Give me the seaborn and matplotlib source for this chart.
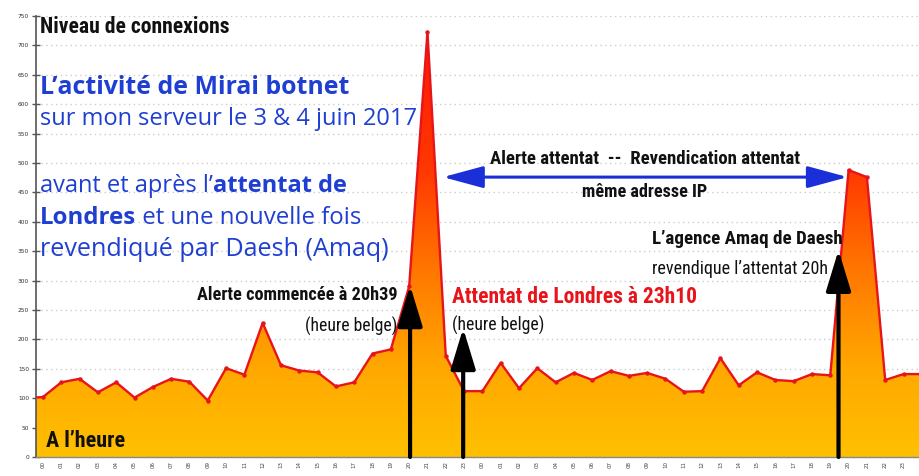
import numpy as np
import pandas as pd
import seaborn as sns
import matplotlib.pyplot as plt
from matplotlib import font_manager
from matplotlib.colors import LinearSegmentedColormap

# ---------------------------------------------------------
# Data: connexions per hour, 3 & 4 June 2017 (hour index, -1 / 48 = clipped edges)
# ---------------------------------------------------------
hours = list(range(-1, 49))
connexions = [100, 102, 127, 133, 110, 127, 101, 119, 133, 128,
              96, 151, 140, 228, 156, 147, 144, 120, 127, 176,
              183, 290, 723, 172, 112, 112, 160, 117, 151, 127,
              143, 131, 146, 138, 143, 133, 111, 112, 168, 122,
              144, 131, 129, 141, 139, 488, 476, 131, 141, 141]

tick_pos = list(range(48))
tick_labels = [f"{h % 24:02d}" for h in tick_pos]
y_ticks = list(range(0, 751, 50))

# events (hour position on the axis) and arrow tip levels
alerte_h, alerte_tip = 20.05, 292
attentat_h, attentat_tip = 22.95, 219
amaq_h, amaq_tip = 43.45, 352
ip_span = (21.85, 43.95, 476)

df = pd.DataFrame({"heure": hours, "connexions": connexions})

# ---------------------------------------------------------
# Fonts
# ---------------------------------------------------------
names = {f.name for f in font_manager.fontManager.ttflist}


def pick(*cands):
    for c in cands:
        if c in names:
            return c
    return "DejaVu Sans"


narrow = pick("Liberation Sans Narrow", "Roboto Condensed", "Open Sans Condensed", "Roboto")
humanist = pick("Open Sans", "Noto Sans", "Lato")

# ---------------------------------------------------------
# Plot
# ---------------------------------------------------------
sns.set_theme(style="white")
W, H = 920, 476
fig = plt.figure(figsize=(W / 100, H / 100), dpi=100)
ax = fig.add_axes([36 / W, 19 / H, 884 / W, 441 / H])

cmap = LinearSegmentedColormap.from_list(
    "feu", [(0, "#ffc000"), (0.2, "#ffa800"), (0.42, "#ff7800"), (0.65, "#ff3800"), (1, "#ff1400")])
grad = np.linspace(0, 1, 256).reshape(-1, 1)
im = ax.imshow(grad, cmap=cmap, aspect="auto", origin="lower",
               extent=[-1, 48, 0, 750], zorder=1)
poly = ax.fill_between(df["heure"], df["connexions"], 0, facecolor="none", linewidth=0)
im.set_clip_path(poly.get_paths()[0], transform=ax.transData)

sns.lineplot(data=df, x="heure", y="connexions", color="#e8141b", lw=1.7,
             marker="o", markersize=3.2, markeredgewidth=0, ax=ax, zorder=3)

ax.set_xlim(-0.38, 47.9)
ax.set_ylim(0, 750)
ax.set_xticks(tick_pos)
ax.set_xticklabels(tick_labels, rotation=90, fontsize=4, color="#444")
ax.set_yticks(y_ticks)
ax.set_yticklabels([str(v) for v in y_ticks], fontsize=4.2, color="#333")
ax.tick_params(axis="y", direction="inout", length=6, width=1, color="#555", pad=2, left=True)
ax.tick_params(axis="x", length=0, pad=3)
ax.set_xlabel("")
ax.set_ylabel("")
ax.yaxis.grid(True, ls=(0, (1, 2.5)), color="#cccccc", lw=1)
ax.set_axisbelow(True)
for s in ["top", "right"]:
    ax.spines[s].set_visible(False)
ax.spines["left"].set_color("#555")
ax.spines["left"].set_linewidth(1.2)
ax.spines["bottom"].set_color("#888")
ax.spines["bottom"].set_linewidth(1)

# ---------------------------------------------------------
# Arrows
# ---------------------------------------------------------
for hx, tip in [(alerte_h, alerte_tip), (attentat_h, attentat_tip), (amaq_h, amaq_tip)]:
    ax.annotate("", xy=(hx, tip), xytext=(hx, 0),
                arrowprops=dict(arrowstyle="-|>,head_length=1.25,head_width=0.38",
                                mutation_scale=20, color="black", lw=3,
                                shrinkA=0, shrinkB=0), zorder=5)

ax.annotate("", xy=(ip_span[0], ip_span[2]), xytext=(ip_span[1], ip_span[2]),
            arrowprops=dict(arrowstyle="<|-|>,head_length=1.55,head_width=0.42",
                            mutation_scale=16, color="#1a2fd8", lw=2.2,
                            shrinkA=0, shrinkB=0), zorder=5)

# ---------------------------------------------------------
# Texts (pixel positions on the picture)
# ---------------------------------------------------------
fig.canvas.draw()
rend = fig.canvas.get_renderer()


def fit(t, width):
    w = t.get_window_extent(rend).width
    t.set_fontsize(t.get_fontsize() * width / w)


def put(s, x, y, width, ha="left", **kw):
    t = fig.text(x / W, 1 - y / H, s, ha=ha, va="center", **kw)
    fit(t, width)
    return t


def put_line(parts, x, y, width, size, color, family):
    # parts: (text, weight) chained along one line
    texts = [fig.text(x / W, 1 - y / H, s, ha="left", va="center", fontsize=size,
                      fontweight=wgt, color=color, family=family) for s, wgt in parts]
    total = sum(t.get_window_extent(rend).width for t in texts)
    for t in texts:
        t.set_fontsize(size * width / total)
    cur = x
    for t in texts:
        t.set_position((cur / W, 1 - y / H))
        cur += t.get_window_extent(rend).width
    return texts


blue = "#1f3fd2"
put("Niveau de connexions", 40, 27, 189, fontsize=11, fontweight="bold", color="#111", family=narrow)
put("L’activité de Mirai botnet", 40, 87, 310, fontsize=16, fontweight="bold", color=blue, family=humanist)
put("sur mon serveur le 3 & 4 juin 2017", 40, 119, 378, fontsize=16, color=blue, family=humanist)
put_line([("avant et après l’", "normal"), ("attentat de", "bold")], 40, 186, 308, 16, blue, humanist)
put_line([("Londres", "bold"), (" et une nouvelle fois", "normal")], 40, 218, 322, 16, blue, humanist)
put("revendiqué par Daesh (Amaq)", 40, 250, 349, fontsize=16, color=blue, family=humanist)

put("Alerte attentat  --  Revendication attentat", 645, 159, 310, ha="center",
    fontsize=12, fontweight="bold", color="#111", family=narrow)
put("même adresse IP", 645, 192, 125, ha="center", fontsize=12, fontweight="bold", color="#111", family=narrow)

put("Alerte commencée à 20h39", 398, 295, 200, ha="right", fontsize=12, fontweight="bold", color="#111", family=narrow)
put("(heure belge)", 397, 326, 92, ha="right", fontsize=12, color="#111", family=narrow)
put("Attentat de Londres à 23h10", 452, 297, 245, fontsize=12, fontweight="bold", color="#e8141b", family=narrow)
put("(heure belge)", 452, 325, 92, fontsize=12, color="#111", family=narrow)

put("L’agence Amaq de Daesh", 843, 239, 190, ha="right", fontsize=12, fontweight="bold", color="#111", family=narrow)
put("revendique l’attentat 20h", 828, 269, 175, ha="right", fontsize=12, color="#111", family=narrow)

put("A l’heure", 46, 441, 79, fontsize=12, fontweight="bold", color="#111", family=narrow)

fig.savefig("out.png", dpi=100)
